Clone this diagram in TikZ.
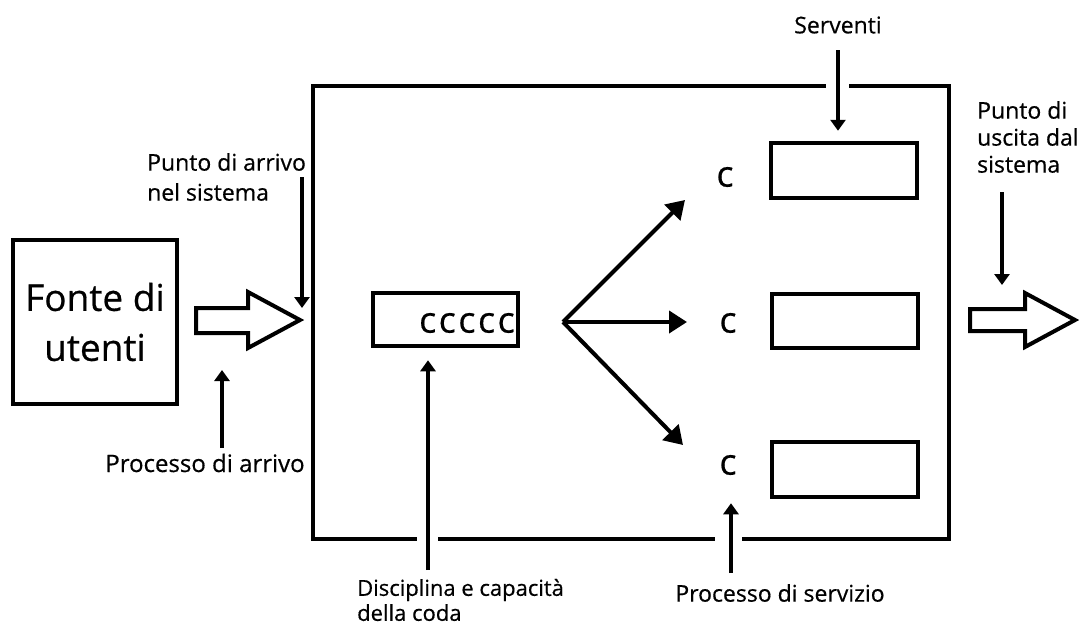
\documentclass[tikz,border=0pt]{standalone}
\usepackage{fontspec}
\setmainfont{Open Sans}[FakeBold=0.5]
\usetikzlibrary{arrows.meta}
\begin{document}
\begin{tikzpicture}[x=1pt,y=-1pt,
  box/.style={draw, line width=4.5pt, inner sep=0pt},
  lbl/.style={inner sep=0pt, font=\fontsize{23}{27}\selectfont, align=left, text=black},
  ptr/.style={line width=3.5pt, -{Triangle[length=11pt,width=15pt]}},
  fan/.style={line width=4pt, -{Triangle[length=18pt,width=22pt]}},
  fat/.style={draw, line width=4pt, line join=miter, fill=white},
  cl/.style={inner sep=0pt, font=\fontsize{36}{36}\selectfont, text=black}]
\fill[white, use as bounding box] (0,0) rectangle (1082,635);

% system box
\node[draw, line width=3.5pt, minimum width=636pt, minimum height=453pt, inner sep=0pt] (sys) at (631,312.5) {};
% gaps in the system border
\fill[white] (826,80) rectangle (849,92);
\fill[white] (417,533) rectangle (438,545);
\fill[white] (715,533) rectangle (742,545);

% source
\node[box, line width=4pt, minimum width=164pt, minimum height=164pt,
      font=\fontsize{37}{50}\selectfont, align=center, text=black] (src) at (95,322) {Fonte di\\utenti};

% queue
\node[box, minimum width=145pt, minimum height=53pt] (q) at (445.5,319.5) {};
\node[cl, anchor=east] (qc) at (515,323) {c\kern2.5pt c\kern2.5pt c\kern2.5pt c\kern2.5pt c};

% servers
\node[box, minimum width=146pt, minimum height=55pt] (s1) at (844,170.5) {};
\node[box, minimum width=146pt, minimum height=54pt] (s2) at (845,321) {};
\node[box, minimum width=146pt, minimum height=55pt] (s3) at (845,469.5) {};
\node[cl] (c1) at (725,177) {c};
\node[cl] (c2) at (728,323) {c};
\node[cl] (c3) at (728,465) {c};

% fat arrows
\draw[fat] (196,308) -- (248,308) -- (248,292) -- (300,320) -- (248,348) -- (248,333) -- (196,333) -- cycle;
\draw[fat] (970,309) -- (1025,309) -- (1025,293) -- (1075,320) -- (1025,347) -- (1025,331) -- (970,331) -- cycle;

% labels
\node[lbl] (serventi) at (838,25) {Serventi};
\node[lbl, anchor=west, font=\fontsize{23}{30}\selectfont] (arrivo) at (147,177) {Punto di arrivo\\nel sistema};
\node[lbl, font=\fontsize{24}{27}\selectfont] (procarr) at (205,463) {Processo di arrivo};
\node[lbl, anchor=west, font=\fontsize{22}{25}\selectfont] (disc) at (357,600) {Disciplina e capacità\\della coda};
\node[lbl] (procserv) at (780,593) {Processo di servizio};
\node[lbl, anchor=west] (uscita) at (977,137) {Punto di\\uscita dal\\sistema};

% pointer arrows
\coordinate (pServ) at (838,50);
\draw[ptr, shorten >=10pt] (pServ) -- (pServ |- s1.north);
\coordinate (pArrS) at (302,177);
\coordinate (pArrE) at (302,308);
\draw[ptr] (pArrS) -- (pArrE);
\coordinate (pPaS) at (222,448);
\coordinate (pPaE) at (222,370);
\draw[ptr] (pPaS) -- (pPaE);
\coordinate (pDisc) at (428,570);
\draw[ptr, shorten >=12pt] (pDisc) -- (pDisc |- q.south);
\coordinate (pServS) at (731,573);
\draw[ptr, shorten >=4pt] (pServS) -- (pServS |- s3.south);
\coordinate (pOutS) at (1002,192);
\coordinate (pOutE) at (1002,285);
\draw[ptr] (pOutS) -- (pOutE);

% fan arrows
\coordinate (fan) at (563,322);
\coordinate (f1) at (685,200);
\coordinate (f2) at (687,322);
\coordinate (f3) at (683,445);
\draw[fan] (fan) -- (f1);
\draw[fan] (fan) -- (f2);
\draw[fan] (fan) -- (f3);
\end{tikzpicture}
\end{document}
